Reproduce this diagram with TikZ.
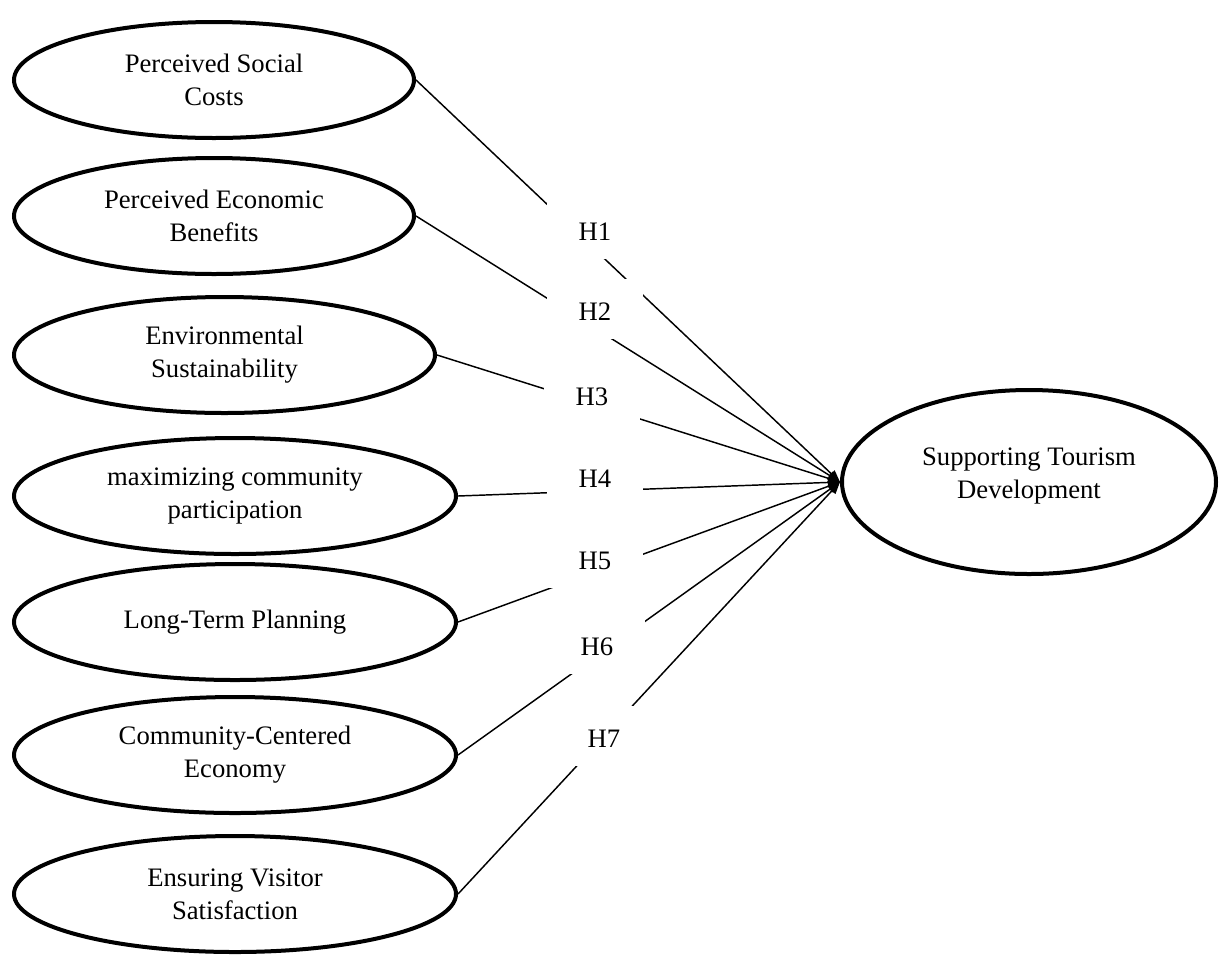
\documentclass[tikz,border=0pt]{standalone}
\usepackage{fontspec}
\setmainfont{Liberation Serif}
\usetikzlibrary{shapes.geometric,arrows.meta}
\newcommand{\liftup}[1]{\raisebox{4.5pt}[\height][\depth]{#1}}
\begin{document}
\begin{tikzpicture}[x=0.75pt,y=-0.75pt,
  construct/.style={draw=black,line width=3pt,ellipse,inner sep=0pt,align=center,
    font=\fontsize{20}{24.75}\selectfont,minimum height=87pt},
  conn/.style={line width=1.1pt,-{Triangle[length=9pt,width=7pt]}},
  hlab/.style={fill=white,inner sep=0pt,minimum width=72pt,text height=31.4pt,
    text depth=13.6pt,font=\fontsize{20}{24.75}\selectfont}]
\useasboundingbox (0,0) rectangle (1219,954);
\node[construct,minimum width=300pt] (e1) at (214,80) {Perceived Social\\Costs};
\node[construct,minimum width=300pt] (e2) at (214,216) {Perceived Economic\\Benefits};
\node[construct,minimum width=315.75pt] (e3) at (224.5,355) {Environmental\\Sustainability};
\node[construct,minimum width=331.5pt] (e4) at (235,496) {maximizing community\\participation};
\node[construct,minimum width=331.5pt] (e5) at (235,622) {Long-Term Planning};
\node[construct,minimum width=331.5pt] (e6) at (235,755) {Community-Centered\\Economy};
\node[construct,minimum width=331.5pt] (e7) at (235,894) {Ensuring Visitor\\Satisfaction};
\node[construct,minimum width=280.5pt,minimum height=138pt] (t) at (1029,482)
  {\liftup{Supporting Tourism}\\\liftup{Development}};
\draw[conn] (e1.east) -- (t.west);
\draw[conn] (e2.east) -- (t.west);
\draw[conn] (e3.east) -- (t.west);
\draw[conn] (e4.east) -- (t.west);
\draw[conn] (e5.east) -- (t.west);
\draw[conn] (e6.east) -- (t.west);
\draw[conn] (e7.east) -- (t.west);
\node[hlab] (h1) at (595,229) {H1};
\node[hlab] (h2) at (595,309) {H2};
\node[hlab] (h3) at (592,394) {H3};
\node[hlab] (h4) at (595,476) {H4};
\node[hlab] (h5) at (595,558) {H5};
\node[hlab] (h6) at (597,644) {H6};
\node[hlab] (h7) at (604,736) {H7};
\end{tikzpicture}
\end{document}
